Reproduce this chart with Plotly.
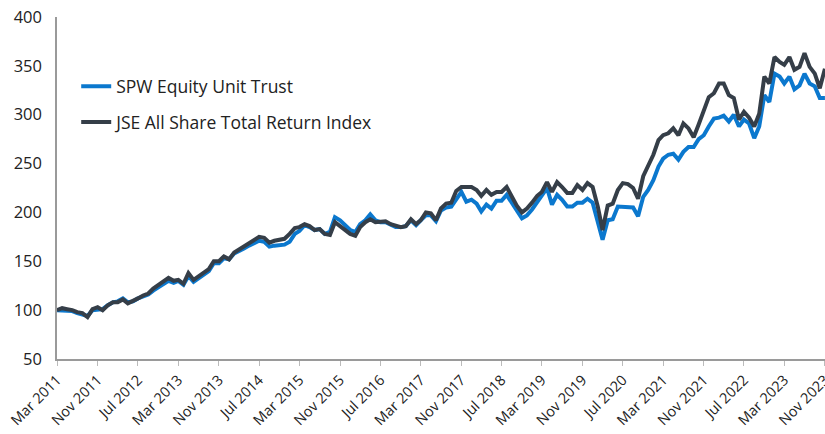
import pandas as pd
import plotly.graph_objects as go

months = pd.date_range("2011-03-01", "2023-11-01", freq="MS")

jse = [
    100, 102, 101, 100, 98, 97, 93, 101, 103, 100,
    105, 108, 108, 111, 107, 109, 112, 115, 117, 122,
    126, 129, 133, 130, 131, 127, 138, 131, 135, 138,
    142, 150, 150, 155, 152, 159, 162, 165, 169, 172,
    175, 174, 169, 171, 172, 173, 178, 184,
    185, 188, 186, 182, 183, 178, 177, 190, 186, 182,
    178, 176, 185, 190, 193, 190, 190, 191, 188, 186,
    185, 186, 193, 188, 192, 200, 199, 192, 204, 209,
    210, 222, 226, 226, 226, 223, 217, 223, 218, 221,
    221, 226, 216, 207, 200, 204, 210, 217, 221, 231,
    221, 231, 226, 220, 220, 228, 223, 230, 226, 206,
    182, 207, 209, 223, 230, 229, 225, 214, 237, 247,
    259, 274, 279, 281, 286, 279, 291, 286, 277, 290,
    305, 318, 322, 332, 332, 320, 317, 295, 303, 297,
    288, 301, 339, 332, 359, 354, 351, 359, 346, 349,
    363, 349, 342, 327, 347,
]

spw = [
    100, 100, 100, 99, 97, 96, 94, 100, 101, 101,
    105, 108, 109, 112, 108, 109, 112, 114, 116, 120,
    123, 127, 130, 128, 130, 126, 135, 129, 133, 137,
    140, 148, 148, 153, 152, 158, 160, 163, 166, 168,
    171, 170, 165, 166, 167, 167, 170, 178,
    181, 187, 185, 182, 183, 178, 180, 195, 192, 187,
    182, 180, 188, 192, 198, 192, 190, 190, 187, 185,
    185, 186, 192, 187, 192, 197, 197, 191, 202, 205,
    206, 214, 221, 211, 213, 209, 201, 208, 204, 212,
    212, 218, 209, 202, 194, 197, 203, 210, 217, 225,
    208, 218, 213, 206, 206, 210, 210, 214, 210, 192,
    172, 192, 193, 206, 206, 206, 205, 196, 216, 223,
    233, 247, 255, 259, 260, 254, 262, 267, 267, 275,
    279, 288, 296, 297, 299, 293, 300, 288, 295, 291,
    276, 288, 320, 313, 342, 339, 332, 339, 326, 330,
    342, 332, 329, 317, 317,
]

tick_dates = months[::8]
tick_labels = [d.strftime("%b %Y") for d in tick_dates]

FONT = "Open Sans"
BLUE = "#0B78CE"
DARK = "#353E48"

fig = go.Figure()
fig.add_trace(go.Scatter(x=months, y=spw, mode="lines", name="SPW Equity Unit Trust",
                         line=dict(color=BLUE, width=4), legendgroup="a"))
fig.add_trace(go.Scatter(x=months, y=jse, mode="lines", name="JSE All Share Total Return Index",
                         line=dict(color=DARK, width=4), legendgroup="b"))

fig.update_layout(
    width=825, height=434,
    margin=dict(l=57, r=0, t=17, b=75),
    paper_bgcolor="white", plot_bgcolor="white",
    font=dict(family=FONT, color="#222222"),
    showlegend=True,
    legend=dict(x=0.025, y=0.85, xanchor="left", yanchor="top",
                font=dict(size=17.5, family=FONT, color="#222222"),
                traceorder="grouped", tracegroupgap=10,
                bgcolor="rgba(0,0,0,0)"),
    xaxis=dict(
        range=[months[0], pd.Timestamp("2023-11-01 12:00")],
        tickvals=list(tick_dates), ticktext=tick_labels,
        tickangle=-45, tickfont=dict(size=14.5, family=FONT, color="#222222"),
        ticklabeloverflow="allow", automargin=False,
        showgrid=False, zeroline=False,
        showline=True, linecolor="#9a9a9a", linewidth=1.5,
        ticks="outside", ticklen=5, tickcolor="#bbbbbb",
    ),
    yaxis=dict(
        range=[50, 400], tickvals=[50, 100, 150, 200, 250, 300, 350, 400],
        tickfont=dict(size=16.5, family=FONT, color="#222222"),
        automargin=False,
        showgrid=False, zeroline=False,
        showline=True, linecolor="#9a9a9a", linewidth=1.5,
        ticks="", ticklabelstandoff=10,
    ),
)

fig.write_html("out.html")
